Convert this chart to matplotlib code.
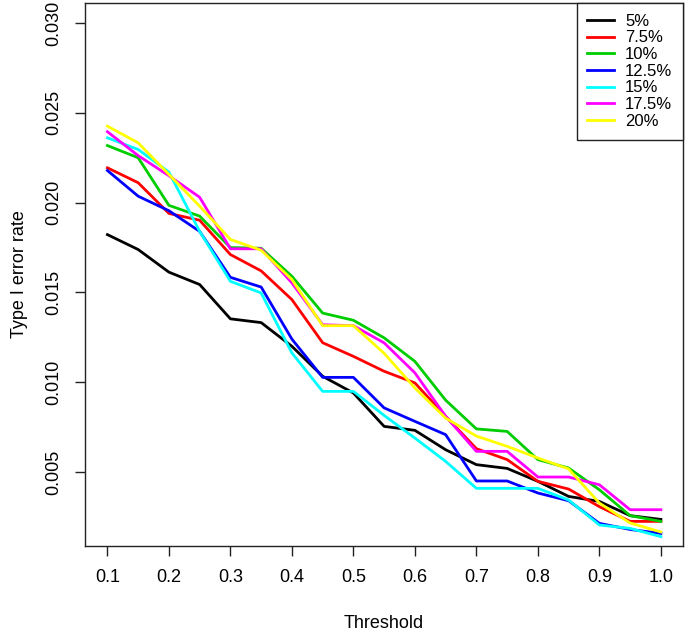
import numpy as np
import matplotlib
matplotlib.use('Agg')
import matplotlib.pyplot as plt

plt.rcParams['font.family'] = ['Liberation Sans', 'DejaVu Sans']

# threshold grid
thresholds = [0.10, 0.15, 0.20, 0.25, 0.30, 0.35, 0.40, 0.45, 0.50, 0.55,
              0.60, 0.65, 0.70, 0.75, 0.80, 0.85, 0.90, 0.95, 1.00]

# type I error rate per setting
err_5 = [0.01822, 0.01739, 0.01613, 0.01544, 0.01353, 0.01332, 0.01200, 0.01033, 0.00940, 0.00754,
         0.00732, 0.00624, 0.00541, 0.00520, 0.00448, 0.00364, 0.00336, 0.00257, 0.00236]
err_7_5 = [0.02194, 0.02111, 0.01940, 0.01902, 0.01711, 0.01620, 0.01460, 0.01220, 0.01144, 0.01061,
           0.00996, 0.00810, 0.00630, 0.00569, 0.00448, 0.00405, 0.00307, 0.00225, 0.00225]
err_10 = [0.02318, 0.02250, 0.01985, 0.01925, 0.01750, 0.01746, 0.01590, 0.01385, 0.01345, 0.01247,
          0.01116, 0.00900, 0.00740, 0.00726, 0.00569, 0.00522, 0.00401, 0.00257, 0.00225]
err_12_5 = [0.02179, 0.02036, 0.01955, 0.01840, 0.01584, 0.01530, 0.01240, 0.01027, 0.01027, 0.00857,
            0.00782, 0.00708, 0.00450, 0.00450, 0.00383, 0.00340, 0.00214, 0.00180, 0.00158]
err_15 = [0.02361, 0.02296, 0.02170, 0.01840, 0.01562, 0.01497, 0.01163, 0.00949, 0.00949, 0.00815,
          0.00689, 0.00559, 0.00409, 0.00409, 0.00409, 0.00344, 0.00205, 0.00186, 0.00140]
err_17_5 = [0.02395, 0.02262, 0.02150, 0.02030, 0.01743, 0.01743, 0.01553, 0.01320, 0.01315, 0.01219,
            0.01052, 0.00810, 0.00615, 0.00615, 0.00472, 0.00472, 0.00429, 0.00290, 0.00290]
err_20 = [0.02426, 0.02333, 0.02157, 0.01980, 0.01795, 0.01735, 0.01572, 0.01315, 0.01315, 0.01161,
          0.00968, 0.00800, 0.00700, 0.00643, 0.00578, 0.00517, 0.00327, 0.00216, 0.00166]

labels = ['5%', '7.5%', '10%', '12.5%', '15%', '17.5%', '20%']
colors = ['#000000', '#FF0000', '#00CD00', '#0000FF', '#00FFFF', '#FF00FF', '#FFFF00']
series = [err_5, err_7_5, err_10, err_12_5, err_15, err_17_5, err_20]

xticks = [0.1, 0.2, 0.3, 0.4, 0.5, 0.6, 0.7, 0.8, 0.9, 1.0]
yticks = [0.005, 0.010, 0.015, 0.020, 0.025, 0.030]

fig = plt.figure(figsize=(6.85, 6.32), dpi=100)
ax = fig.add_axes([0.1245, 0.1361, 0.8726, 0.8592])

for vals, c, lab in zip(series, colors, labels):
    ax.plot(thresholds, vals, color=c, lw=2, label=lab)

# R style 4% padding around the data range
ax.set_xlim(0.1 - 0.036, 1.0 + 0.036)
ax.set_ylim(0.002 - 0.00112, 0.030 + 0.00112)

ax.set_xticks(xticks)
ax.set_xticklabels(['%.1f' % t for t in xticks])
ax.set_yticks(yticks)
ax.set_yticklabels(['%.3f' % t for t in yticks], rotation=90, va='center')
ax.tick_params(direction='out', length=7.5, width=1, labelsize=13, colors='#222222',
               labelcolor='black')
ax.tick_params(axis='x', pad=9)
ax.tick_params(axis='y', pad=9)
for sp in ax.spines.values():
    sp.set_linewidth(1)
    sp.set_color('#222222')

ax.set_xlabel('Threshold', fontsize=13)
ax.xaxis.set_label_coords(0.5, -0.142)
ax.xaxis.label.set_va('center')
ax.set_ylabel('Type I error rate', fontsize=13)
ax.yaxis.set_label_coords(-0.11, 0.5)
ax.yaxis.label.set_va('center')

leg = ax.legend(loc='upper right', borderaxespad=0, fontsize=12, fancybox=False,
                framealpha=1, edgecolor='#222222', handlelength=1.6,
                handletextpad=0.65, labelspacing=0.1, borderpad=0.65)
leg.get_frame().set_linewidth(1)

fig.savefig('out.png', dpi=100)
